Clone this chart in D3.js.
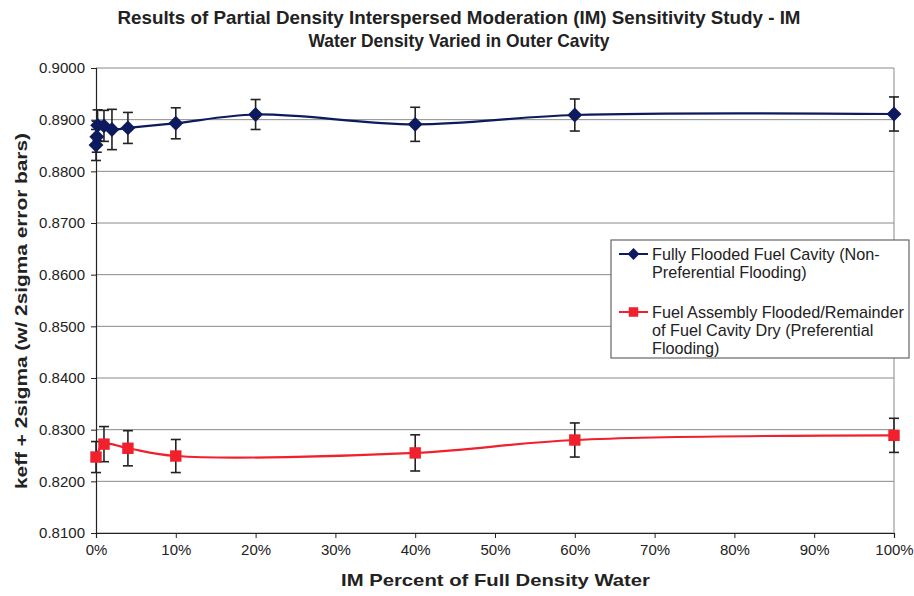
<!DOCTYPE html>
<html><head><meta charset="utf-8">
<script src="https://cdn.jsdelivr.net/npm/d3@7"></script>
<style>body{margin:0;background:#fff}svg{font-family:Arial,"Liberation Sans",sans-serif}</style>
</head><body><svg id="c" width="914" height="596"></svg>
<script>
const titleLines = ["Results of Partial Density Interspersed Moderation (IM) Sensitivity Study - IM", "Water Density Varied in Outer Cavity"];
const xLabel = "IM Percent of Full Density Water";
const yLabel = "keff + 2sigma (w/ 2sigma error bars)";
const yTicks = [0.81,0.82,0.83,0.84,0.85,0.86,0.87,0.88,0.89,0.90];
const xTicks = [0,10,20,30,40,50,60,70,80,90,100];

const blueName = ["Fully Flooded Fuel Cavity (Non-", "Preferential Flooding)"];
const blueX   = [0, 0.1, 0.2, 1, 2, 4, 10, 20, 40, 60, 100];
const blueY   = [0.8851, 0.8867, 0.8889, 0.8888, 0.8881, 0.8884, 0.8893, 0.8910, 0.8891, 0.8909, 0.8911];
const blueErr = [0.0030, 0.0030, 0.0030, 0.0030, 0.0039, 0.0030, 0.0030, 0.0029, 0.0033, 0.0031, 0.0033];

const redName = ["Fuel Assembly Flooded/Remainder", "of Fuel Cavity Dry (Preferential", "Flooding)"];
const redX   = [0, 1, 4, 10, 40, 60, 100];
const redY   = [0.8247, 0.8272, 0.8264, 0.8249, 0.8255, 0.8280, 0.8289];
const redErr = [0.0030, 0.0034, 0.0034, 0.0032, 0.0035, 0.0033, 0.0033];

const svg = d3.select("#c");
const L = 96, R = 894, T = 68, B = 533;
const x = d3.scaleLinear().domain([0,100]).range([L,R]);
const y = d3.scaleLinear().domain([0.81,0.90]).range([B,T]);

const tW = [683, 301];
svg.append("g").selectAll("text").data(titleLines).join("text")
  .attr("x", 459).attr("y",(d,i)=>24+i*23).attr("text-anchor","middle")
  .attr("font-size",18.5).attr("font-weight","bold").attr("fill","#222")
  .attr("textLength",(d,i)=>tW[i]).attr("lengthAdjust","spacingAndGlyphs").text(d=>d);

svg.append("g").selectAll("line").data(yTicks).join("line")
  .attr("x1",L).attr("x2",R).attr("y1",d=>y(d)).attr("y2",d=>y(d))
  .attr("stroke","#8a8a8a").attr("stroke-width",1);
svg.append("line").attr("x1",R).attr("x2",R).attr("y1",T).attr("y2",B).attr("stroke","#8a8a8a");

const yAxis = d3.axisLeft(y).tickValues(yTicks).tickFormat(d3.format(".4f")).tickSize(5).tickPadding(6);
const gy = svg.append("g").attr("transform",`translate(${L},0)`).call(yAxis);
const xAxis = d3.axisBottom(x).tickValues(xTicks).tickFormat(d=>d+"%").tickSize(5).tickPadding(6);
const gx = svg.append("g").attr("transform",`translate(0,${B})`).call(xAxis);
[gy,gx].forEach(g=>{
  g.select(".domain").attr("stroke","#222").attr("stroke-width",1.2);
  g.selectAll(".tick line").attr("stroke","#222");
  g.selectAll("text").attr("font-size",15).attr("fill","#222").attr("font-family","Arial,'Liberation Sans',sans-serif");
});

svg.append("text").attr("x",495.5).attr("y",586).attr("text-anchor","middle")
  .attr("font-size",17).attr("font-weight","bold").attr("fill","#222")
  .attr("textLength",309).attr("lengthAdjust","spacingAndGlyphs").text(xLabel);
svg.append("text").attr("transform",`translate(27,311) rotate(-90)`).attr("text-anchor","middle")
  .attr("font-size",16).attr("font-weight","bold").attr("fill","#222")
  .attr("textLength",356).attr("lengthAdjust","spacingAndGlyphs").text(yLabel);

function series(xs, ys, es, color, shape, size){
  const pts = xs.map((d,i)=>({x:d,y:ys[i],e:es[i]}));
  const line = d3.line().x(d=>x(d.x)).y(d=>y(d.y)).curve(d3.curveCatmullRom.alpha(0.5));
  const g = svg.append("g");
  g.append("path").datum(pts).attr("d",line).attr("fill","none").attr("stroke",color).attr("stroke-width",2.2);
  const eb = g.append("g").attr("stroke","#222").attr("stroke-width",1.6);
  pts.forEach(d=>{
    const cx = x(d.x);
    eb.append("line").attr("x1",cx).attr("x2",cx).attr("y1",y(d.y+d.e)).attr("y2",y(d.y-d.e));
    eb.append("line").attr("x1",cx-5).attr("x2",cx+5).attr("y1",y(d.y+d.e)).attr("y2",y(d.y+d.e));
    eb.append("line").attr("x1",cx-5).attr("x2",cx+5).attr("y1",y(d.y-d.e)).attr("y2",y(d.y-d.e));
  });
  g.append("g").selectAll("path").data(pts).join("path")
    .attr("transform",d=>`translate(${x(d.x)},${y(d.y)})`)
    .attr("d",d3.symbol().type(shape).size(size))
    .attr("fill",color);
}
series(blueX, blueY, blueErr, "#0d1a5e", d3.symbolDiamond2, 140);
series(redX, redY, redErr, "#f0202c", d3.symbolSquare, 130);

const lg = svg.append("g");
lg.append("rect").attr("x",611).attr("y",240).attr("width",298).attr("height",118)
  .attr("fill","#fff").attr("stroke","#666").attr("stroke-width",1.2);
function legItem(y0, lines, color, shape, size){
  lg.append("line").attr("x1",619).attr("x2",648).attr("y1",y0).attr("y2",y0).attr("stroke",color).attr("stroke-width",2);
  lg.append("path").attr("transform",`translate(633.5,${y0})`)
    .attr("d",d3.symbol().type(shape).size(size)).attr("fill",color);
  lg.selectAll(null).data(lines).join("text").attr("x",652).attr("y",(d,i)=>y0+6+i*18)
    .attr("font-size",16.2).attr("fill","#222").text(d=>d);
}
legItem(254, blueName, "#0d1a5e", d3.symbolDiamond2, 90);
legItem(312, redName, "#f0202c", d3.symbolSquare, 90);
</script></body></html>
